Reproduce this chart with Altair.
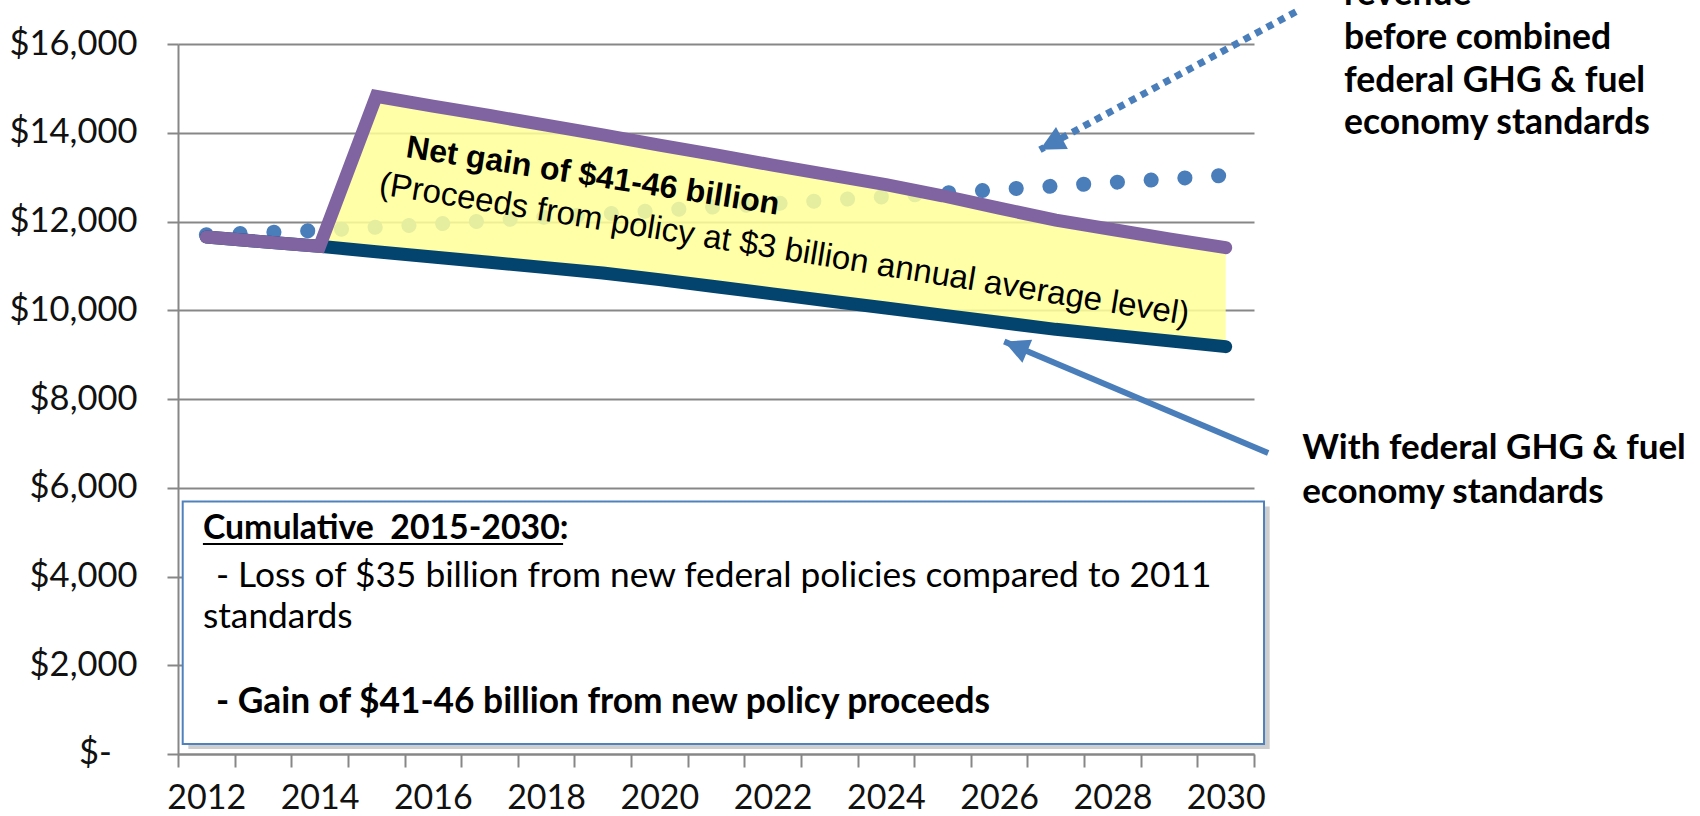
import altair as alt
import pandas as pd

# ---------------- data ----------------
years = list(range(2012, 2031))
# dotted: revenue before combined federal GHG & fuel economy standards
before_standards = [11700, 11750, 11800, 11870, 11940, 12020, 12100, 12170, 12250, 12330,
                    12400, 12480, 12560, 12640, 12720, 12800, 12880, 12960, 13040]
# navy: with federal GHG & fuel economy standards
with_standards = [11650, 11545, 11440, 11320, 11200, 11080, 10960, 10840, 10690, 10530,
                  10370, 10210, 10050, 9890, 9730, 9570, 9440, 9310, 9180]
# purple: with policy proceeds
with_proceeds = [11650, 11545, 11440, 14820, 14600, 14390, 14170, 13950, 13720, 13500,
                 13270, 13050, 12830, 12580, 12300, 12030, 11820, 11610, 11410]

y_ticks = [0, 2000, 4000, 6000, 8000, 10000, 12000, 14000, 16000]
x_tick_bounds = [2011.5 + i for i in range(20)]
zero_label = "$-"
zero_label_x = 2010.33

NB = "\u00a0"
# annotation texts and anchor positions (in data units)
band_lines = ["Net gain of $41-46 billion",
              "(Proceeds from policy at $3 billion annual average level)"]
band_x = [2015.51, 2015.03]
band_y = [13451, 12620]

right_top_lines = ["revenue", "before combined", "federal GHG & fuel", "economy standards"]
right_top_x = [2032.09, 2032.09, 2032.09, 2032.09]
right_top_y = [16885, 15893, 14924, 13977]

right_mid_lines = ["With federal GHG & fuel", "economy standards"]
right_mid_x = [2031.35, 2031.35]
right_mid_y = [6650, 5650]

box_head_line = "Cumulative" + NB + NB + "2015-2030:"
box_head_x, box_head_y = 2011.94, 4847
box_gain_line = "- Gain of $41-46 billion from new policy proceeds"
box_gain_x, box_gain_y = 2012.17, 917
box_reg_lines = ["- Loss of $35 billion from new federal policies compared to 2011",
                 "standards"]
box_reg_x = [2012.17, 2011.94]
box_reg_y = [3771, 2832]

box_x = [2011.583, 2030.677]
box_y = [225, 5688]
underline_x = [2011.94, 2018.30]
underline_y = [4730]

arrow_dotted = {"x": [2031.24], "x2": [2026.72], "y": [16727], "y2": [13616]}
arrow_solid = {"x": [2030.75], "x2": [2026.09], "y": [6785], "y2": [9294]}

# ---------------- chart ----------------
GRAY = "#878787"
XDOM = [2011.5, 2030.5]
YDOM = [0, 16000]

x_axis = alt.Axis(
    values=x_tick_bounds,
    labelExpr="((datum.value + 0.5) % 2 == 0) ? format(datum.value + 0.5, 'd') : ''",
    labelOffset=28.3, labelPadding=14, labelFont="Lato", labelFontSize=34,
    labelColor="#111111", labelOverlap=False, labelFlush=False,
    tickSize=13, tickWidth=2, tickColor=GRAY,
    domainColor=GRAY, domainWidth=2, grid=False, title=None,
)
y_axis = alt.Axis(
    values=y_ticks,
    labelExpr="datum.value == 0 ? '' : '$' + format(datum.value, ',')",
    labelPadding=30, labelFont="Lato", labelFontSize=34.5, labelColor="#111111",
    tickSize=11, tickWidth=2, tickColor=GRAY,
    domainColor=GRAY, domainWidth=2,
    grid=True, gridColor=GRAY, gridWidth=2, title=None,
)

xs = alt.Scale(domain=XDOM, nice=False, zero=False)
ys = alt.Scale(domain=YDOM, nice=False, zero=False)


def X(field):
    return alt.X(field, type="quantitative", scale=xs, axis=x_axis)


def Y(field):
    return alt.Y(field, type="quantitative", scale=ys, axis=y_axis)


df = pd.DataFrame({"year": years, "before": before_standards,
                   "with_std": with_standards, "proceeds": with_proceeds})
df_area = df[df["year"] >= 2014]

dotted = alt.Chart(df).mark_line(
    color="#4A7EBB", strokeWidth=15, strokeCap="round", strokeDash=[0.1, 33.7]
).encode(x=X("year"), y=Y("before"))

area = alt.Chart(df_area).mark_area(color="#FFFF99", opacity=0.86).encode(
    x=X("year"), y=Y("proceeds"), y2="with_std")

navy = alt.Chart(df).mark_line(
    color="#03446F", strokeWidth=13, strokeCap="round", strokeJoin="round"
).encode(x=X("year"), y=Y("with_std"))

purple = alt.Chart(df).mark_line(
    color="#8064A2", strokeWidth=13, strokeCap="round", strokeJoin="miter"
).encode(x=X("year"), y=Y("proceeds"))

head_path = "M0,0 L-0.5,1 L0.5,1 Z"
ad = pd.DataFrame(arrow_dotted)
asd = pd.DataFrame(arrow_solid)
arrow1 = alt.Chart(ad).mark_rule(color="#4A7EBB", strokeWidth=7, strokeDash=[7, 6]).encode(
    x=X("x"), x2="x2", y=Y("y"), y2="y2")
head1 = alt.Chart(ad).mark_point(shape=head_path, filled=True, opacity=1, size=2500,
                                 color="#4A7EBB", angle=241.7).encode(x=X("x2"), y=Y("y2"))
arrow2 = alt.Chart(asd).mark_rule(color="#4A7EBB", strokeWidth=6).encode(
    x=X("x"), x2="x2", y=Y("y"), y2="y2")
head2 = alt.Chart(asd).mark_point(shape=head_path, filled=True, opacity=1, size=2500,
                                  color="#4A7EBB", angle=292.9).encode(x=X("x2"), y=Y("y2"))

band_df = pd.DataFrame({"x": band_x, "y": band_y, "t": band_lines})
band_bold = alt.Chart(band_df.iloc[[0]]).mark_text(
    font="Liberation Sans", fontSize=32, fontWeight="bold", align="left",
    baseline="alphabetic", angle=8.8, color="#000000"
).encode(x=X("x"), y=Y("y"), text="t:N")
band_reg = alt.Chart(band_df.iloc[[1]]).mark_text(
    font="Liberation Sans", fontSize=33, align="left",
    baseline="alphabetic", angle=9.2, color="#000000"
).encode(x=X("x"), y=Y("y"), text="t:N")

box_df = pd.DataFrame({"x": [box_x[0]], "x2": [box_x[1]], "y": [box_y[0]], "y2": [box_y[1]]})
shadow_df = pd.DataFrame({"x": [box_x[0] + 0.1], "x2": [box_x[1] + 0.1],
                          "y": [box_y[0] - 110], "y2": [box_y[1] - 110]})
shadow = alt.Chart(shadow_df).mark_rect(color="#A6A6A6", opacity=0.55).encode(
    x=X("x"), x2="x2", y=Y("y"), y2="y2")
box = alt.Chart(box_df).mark_rect(fill="white", stroke="#4F81BD", strokeWidth=2).encode(
    x=X("x"), x2="x2", y=Y("y"), y2="y2")

head_df = pd.DataFrame({"x": [box_head_x], "y": [box_head_y], "t": [box_head_line]})
gain_df = pd.DataFrame({"x": [box_gain_x], "y": [box_gain_y], "t": [box_gain_line]})
br_df = pd.DataFrame({"x": box_reg_x, "y": box_reg_y, "t": box_reg_lines})
box_head = alt.Chart(head_df).mark_text(
    font="Lato", fontSize=33.8, fontWeight="bold", align="left", baseline="alphabetic",
    color="#000000").encode(x=X("x"), y=Y("y"), text="t:N")
box_gain = alt.Chart(gain_df).mark_text(
    font="Lato", fontSize=35.3, fontWeight="bold", align="left", baseline="alphabetic",
    color="#000000").encode(x=X("x"), y=Y("y"), text="t:N")
box_reg = alt.Chart(br_df).mark_text(
    font="Lato", fontSize=35.3, align="left", baseline="alphabetic",
    color="#000000").encode(x=X("x"), y=Y("y"), text="t:N")
ul_df = pd.DataFrame({"x": [underline_x[0]], "x2": [underline_x[1]], "y": underline_y})
underline = alt.Chart(ul_df).mark_rule(color="#000000", strokeWidth=2).encode(
    x=X("x"), x2="x2", y=Y("y"))

rt_df = pd.DataFrame({"x": right_top_x, "y": right_top_y, "t": right_top_lines})
rm_df = pd.DataFrame({"x": right_mid_x, "y": right_mid_y, "t": right_mid_lines})
right_top = alt.Chart(rt_df).mark_text(
    font="Lato", fontSize=35.5, fontWeight="bold", align="left", baseline="alphabetic",
    color="#000000").encode(x=X("x"), y=Y("y"), text="t:N")
right_mid = alt.Chart(rm_df).mark_text(
    font="Lato", fontSize=35, fontWeight="bold", align="left", baseline="alphabetic",
    color="#000000").encode(x=X("x"), y=Y("y"), text="t:N")

zero_df = pd.DataFrame({"x": [zero_label_x], "y": [y_ticks[0]], "t": [zero_label]})
zero_txt = alt.Chart(zero_df).mark_text(
    font="Lato", fontSize=34.5, align="right", baseline="middle",
    color="#111111").encode(x=X("x"), y=Y("y"), text="t:N")

chart = alt.layer(
    dotted, area, navy, purple, arrow1, head1, arrow2, head2,
    band_bold, band_reg, shadow, box, underline, box_head, box_gain, box_reg,
    right_top, right_mid, zero_txt,
).properties(
    width=1076, height=710,
    autosize=alt.AutoSizeParams(type="none"),
    padding={"left": 178, "top": 44, "right": 446, "bottom": 62},
    background="white",
).configure_view(stroke=None)

chart.save("out.html", embed_options={"renderer": "svg", "actions": False})
